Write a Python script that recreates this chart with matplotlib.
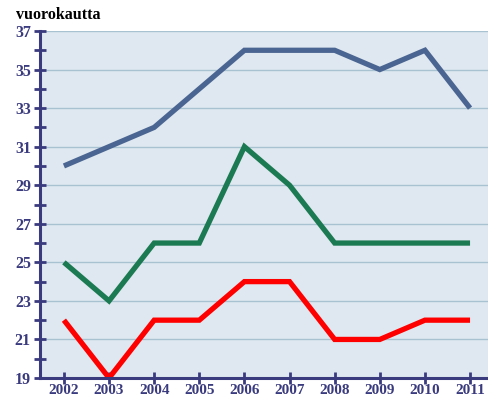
import matplotlib
matplotlib.use("Agg")
import matplotlib.pyplot as plt
from matplotlib.ticker import MultipleLocator

years = [2002, 2003, 2004, 2005, 2006, 2007, 2008, 2009, 2010, 2011]
blue_vals = [30, 31, 32, 34, 36, 36, 36, 35, 36, 33]
green_vals = [25, 23, 26, 26, 31, 29, 26, 26, 26, 26]
red_vals = [22, 19, 22, 22, 24, 24, 21, 21, 22, 22]
y_ticks = [19, 21, 23, 25, 27, 29, 31, 33, 35, 37]

navy = "#3a3a7e"
fig = plt.figure(figsize=(4.89, 4.0), dpi=100)
ax = fig.add_axes([40/489, 22/400, 449/489, 347/400])
ax.set_facecolor("#dfe8f0")

for vals, col in [(blue_vals, "#4a6591"), (green_vals, "#1c7a52"), (red_vals, "#ff0000")]:
    ax.plot(years, vals, color=col, lw=3.8, solid_joinstyle="miter", solid_capstyle="butt", zorder=3)

ax.set_xlim(2001.47, 2011.42)
ax.set_ylim(19, 37)
ax.set_yticks(y_ticks)
ax.yaxis.set_minor_locator(MultipleLocator(1))
ax.set_xticks(years)
ax.grid(axis="y", which="major", color="#a9c2d2", lw=1.0, zorder=1)

for s in ["top", "right"]:
    ax.spines[s].set_visible(False)
for s in ["left", "bottom"]:
    ax.spines[s].set_color(navy)
    ax.spines[s].set_linewidth(2.2)
    ax.spines[s].set_zorder(4)

ax.tick_params(axis="both", which="both", direction="inout", color=navy, width=2.0, length=9)
ax.tick_params(axis="y", which="major", labelcolor=navy, labelsize=11.5, pad=2)
ax.tick_params(axis="x", which="major", labelcolor=navy, labelsize=11, pad=0)
for lab in ax.get_xticklabels() + ax.get_yticklabels():
    lab.set_fontfamily("Liberation Serif")
    lab.set_fontweight("bold")

fig.text(16/489, 1 - 15/400, "vuorokautta", fontfamily="Liberation Serif", fontweight="bold",
         fontsize=11.5, color="black", va="center", ha="left")

fig.savefig("out.png", dpi=100)
